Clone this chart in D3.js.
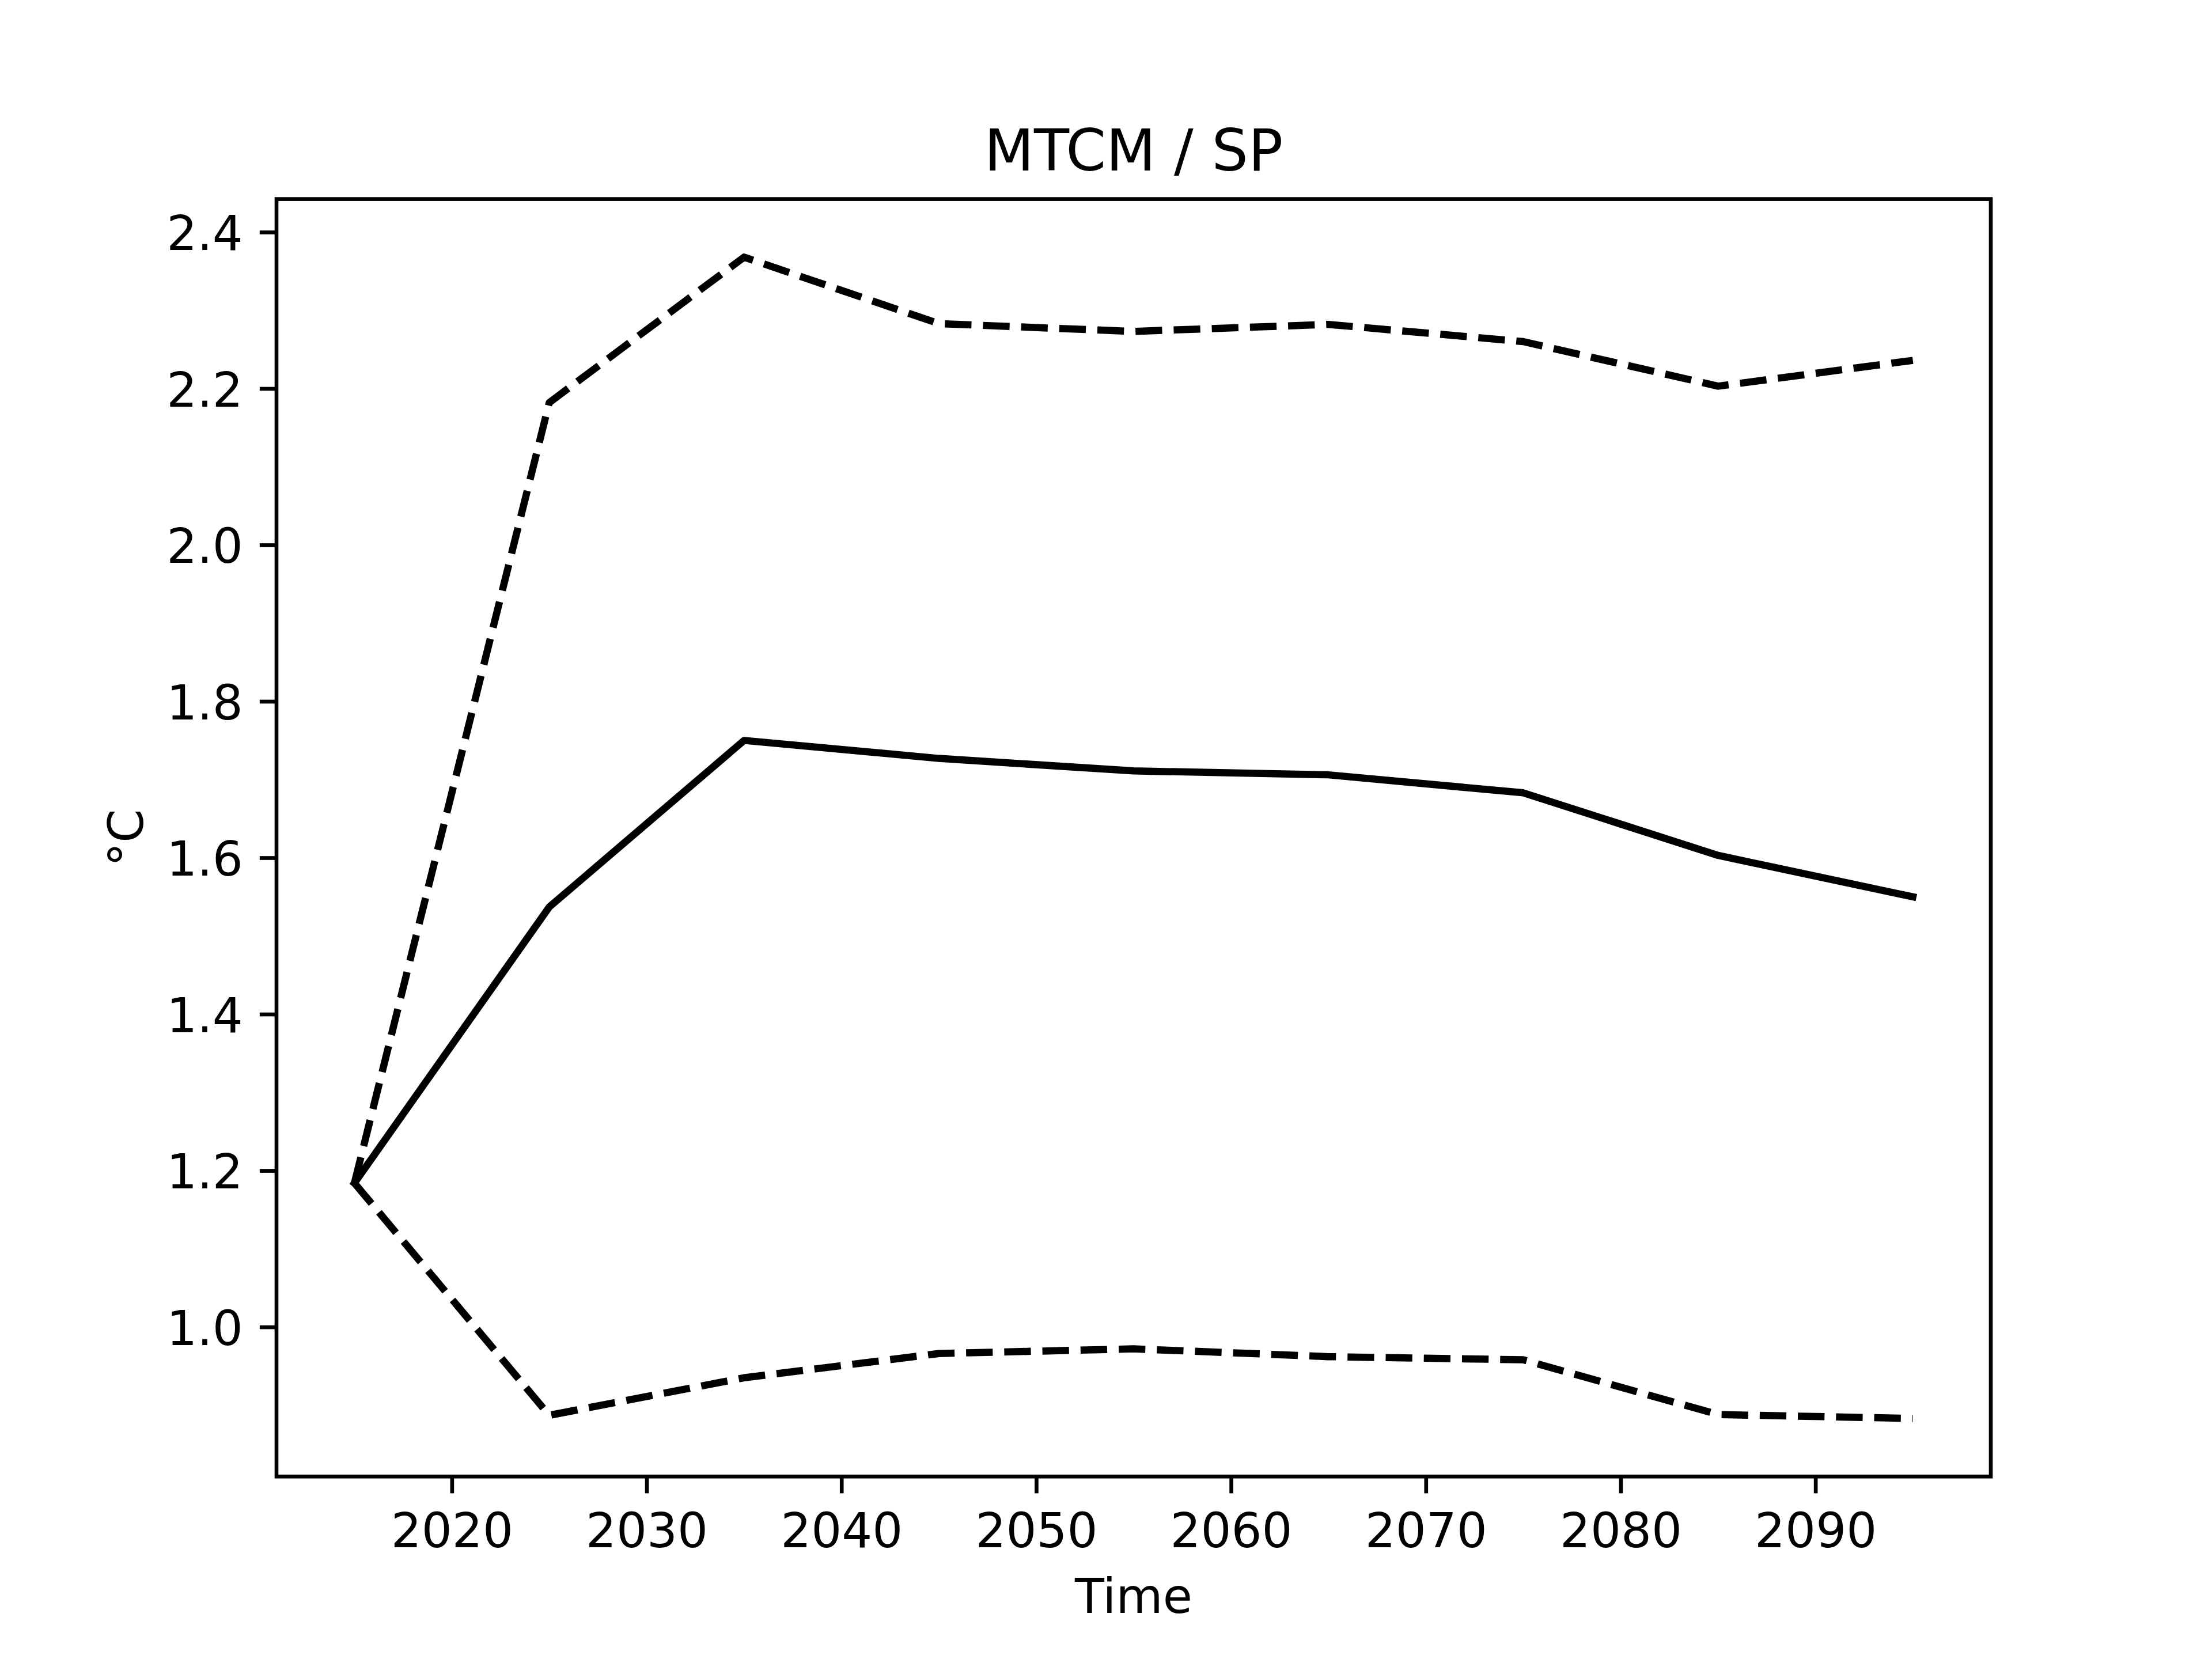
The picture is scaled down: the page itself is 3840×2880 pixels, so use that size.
<!DOCTYPE html>
<html>
<head>
<meta charset="utf-8">
<script src="https://cdn.jsdelivr.net/npm/d3@7"></script>
<style>
  html, body { margin: 0; padding: 0; background: #fff; }
  svg { display: block; }
  text { font-family: "DejaVu Sans", sans-serif; fill: #000; }
</style>
</head>
<body>
<script>
// ---- data ----
const years = [2015, 2025, 2035, 2045, 2055, 2065, 2075, 2085, 2095];
const meanValues  = [1.184, 1.537, 1.750, 1.727, 1.711, 1.706, 1.683, 1.603, 1.550];
const upperValues = [1.184, 2.182, 2.368, 2.283, 2.273, 2.282, 2.260, 2.203, 2.236];
const lowerValues = [1.184, 0.887, 0.935, 0.966, 0.972, 0.962, 0.958, 0.888, 0.883];
const xTicks = [2020, 2030, 2040, 2050, 2060, 2070, 2080, 2090];
const yTicks = [1.0, 1.2, 1.4, 1.6, 1.8, 2.0, 2.2, 2.4];
const titleText = "MTCM / SP";
const xLabelText = "Time";
const yLabelText = "°C";

// ---- layout (matplotlib defaults at 600 dpi) ----
const W = 3840, H = 2880;
const pt = 600 / 72;
const plotLeft = 0.125 * W, plotRight = 0.9 * W, plotTop = H - 0.88 * H, plotBottom = H - 0.11 * H;
const fs = 10 * pt, titleFs = 12 * pt;
const lw = 1.5 * pt, axLw = 0.8 * pt, tickLen = 3.5 * pt, tickPad = 3.5 * pt;

const svg = d3.select("body").append("svg").attr("width", W).attr("height", H);
svg.append("rect").attr("width", W).attr("height", H).attr("fill", "#fff");

function padded(ext) { const r = ext[1] - ext[0]; return [ext[0] - 0.05 * r, ext[1] + 0.05 * r]; }
const xDom = padded(d3.extent(years));
const yDom = padded(d3.extent([...meanValues, ...upperValues, ...lowerValues]));
const x = d3.scaleLinear().domain(xDom).range([plotLeft, plotRight]);
const y = d3.scaleLinear().domain(yDom).range([plotBottom, plotTop]);

svg.append("clipPath").attr("id", "clip").append("rect")
  .attr("x", plotLeft).attr("y", plotTop)
  .attr("width", plotRight - plotLeft).attr("height", plotBottom - plotTop);

const line = d3.line().x(d => x(d[0])).y(d => y(d[1]));
const g = svg.append("g").attr("clip-path", "url(#clip)");

function drawSeries(vals, dashed) {
  g.append("path")
    .datum(years.map((yr, i) => [yr, vals[i]]))
    .attr("d", line)
    .attr("fill", "none")
    .attr("stroke", "#000")
    .attr("stroke-width", lw)
    .attr("stroke-linejoin", "round")
    .attr("stroke-linecap", dashed ? "butt" : "square")
    .attr("stroke-dasharray", dashed ? `${3.7 * 1.5 * pt},${1.6 * 1.5 * pt}` : null);
}
drawSeries(meanValues, false);
drawSeries(upperValues, true);
drawSeries(lowerValues, true);

const xAxis = d3.axisBottom(x).tickValues(xTicks).tickFormat(d3.format("d"))
  .tickSize(tickLen).tickPadding(tickPad);
const yAxis = d3.axisLeft(y).tickValues(yTicks).tickFormat(d3.format(".1f"))
  .tickSize(tickLen).tickPadding(tickPad);

const gx = svg.append("g").attr("transform", `translate(0,${plotBottom})`).call(xAxis);
const gy = svg.append("g").attr("transform", `translate(${plotLeft},0)`).call(yAxis);
[gx, gy].forEach(ax => {
  ax.select(".domain").remove();
  ax.selectAll(".tick line").attr("stroke", "#000").attr("stroke-width", axLw);
  ax.selectAll(".tick text").attr("font-size", fs).attr("font-family", "DejaVu Sans").attr("fill", "#000");
});
// x tick labels: baseline ~ 2686
gx.selectAll(".tick text").attr("y", 2686 - plotBottom).attr("dy", null);
// y tick labels: baseline = tick + cap/2
gy.selectAll(".tick text").attr("dy", "0.37em").attr("x", -(tickLen + tickPad));

svg.append("rect")
  .attr("x", plotLeft).attr("y", plotTop)
  .attr("width", plotRight - plotLeft).attr("height", plotBottom - plotTop)
  .attr("fill", "none").attr("stroke", "#000").attr("stroke-width", axLw)
  .attr("stroke-linejoin", "miter");

svg.append("text").attr("x", (plotLeft + plotRight) / 2).attr("y", 296)
  .attr("text-anchor", "middle").attr("font-size", titleFs).text(titleText);

svg.append("text").attr("x", (plotLeft + plotRight) / 2).attr("y", 2800)
  .attr("text-anchor", "middle").attr("font-size", fs).text(xLabelText);

svg.append("text")
  .attr("transform", `translate(248,${(plotTop + plotBottom) / 2}) rotate(-90)`)
  .attr("text-anchor", "middle").attr("font-size", fs).text(yLabelText);
</script>
</body>
</html>
